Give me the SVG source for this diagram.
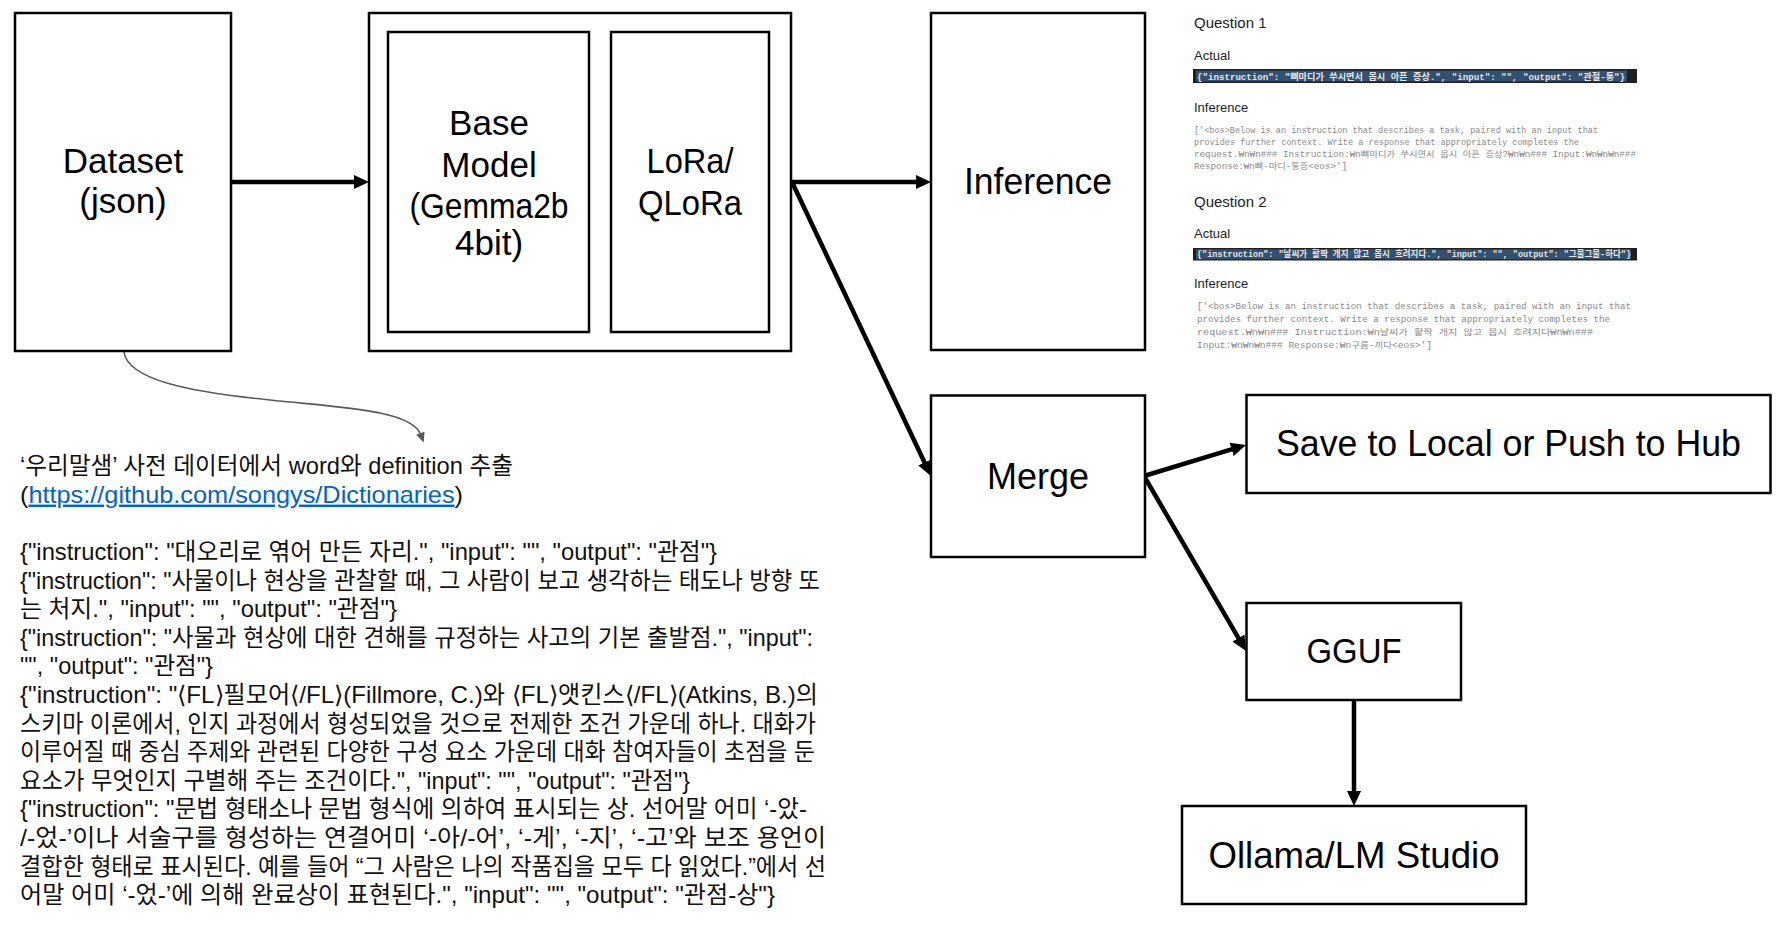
<svg xmlns="http://www.w3.org/2000/svg" width="1787" height="935" viewBox="0 0 1787 935">
<style>
.box{fill:#fff;stroke:#000;stroke-width:2.5}
.lbl{font-family:"Liberation Sans","Noto Sans CJK KR",sans-serif;font-size:35px;fill:#000;text-anchor:middle}
.big{font-size:36px}
.conn{stroke:#000;stroke-width:4.5;fill:none;marker-end:url(#ah)}
.note{stroke:#5a5a5a;stroke-width:1.6;fill:none;marker-end:url(#ahs)}
.body{font-family:"Liberation Sans","Noto Sans CJK KR",sans-serif;font-size:24px;fill:#111}
.link{fill:#0563c1;text-decoration:underline}
.hdr{font-family:"Liberation Sans","Noto Sans CJK KR",sans-serif;fill:#222}
.mono{font-family:"Liberation Mono","Noto Sans CJK KR",monospace;font-size:8.5px;fill:#8a8a8a}
.code{font-family:"Liberation Mono","Noto Sans CJK KR",monospace;font-size:9px;font-weight:bold;fill:#e6e6e6}
</style>
<defs>
<marker id="ah" markerUnits="userSpaceOnUse" markerWidth="15" markerHeight="14" refX="5" refY="7" orient="auto"><path d="M0,0 L15,7 L0,14 z" fill="#000"/></marker>
<marker id="ahs" markerUnits="userSpaceOnUse" markerWidth="10" markerHeight="9" refX="2" refY="4.5" orient="auto"><path d="M0,0 L10,4.5 L0,9 z" fill="#5a5a5a"/></marker>
</defs>
<rect width="1787" height="935" fill="#fff"/>

<g id="connectors">
<line class="conn" x1="231" y1="182" x2="359" y2="182"/>
<line class="conn" x1="791" y1="182" x2="921" y2="182"/>
<line class="conn" x1="792" y1="182" x2="926.7" y2="467"/>
<line class="conn" x1="1144" y1="476" x2="1236.4" y2="447.9"/>
<line class="conn" x1="1144" y1="476" x2="1241" y2="642.4"/>
<line class="conn" x1="1354" y1="700" x2="1354" y2="796"/>
<path class="note" d="M124,352 C128,380 190,392 270,400 C345,408 412,410 421,435"/>
</g>

<g id="dataset">
<rect class="box" x="15" y="13" width="216" height="338"/>
<text class="lbl" x="123" y="173">Dataset</text>
<text class="lbl" x="123" y="213">(json)</text>
</g>

<g id="training">
<rect class="box" x="369" y="13" width="422" height="338"/>
<g id="base-model">
<rect class="box" x="388" y="32" width="201" height="300"/>
<text class="lbl" x="489" y="135">Base</text>
<text class="lbl" x="489" y="177">Model</text>
<text class="lbl" x="489" y="218" textLength="159" lengthAdjust="spacingAndGlyphs">(Gemma2b</text>
<text class="lbl" x="489" y="255">4bit)</text>
</g>
<g id="lora">
<rect class="box" x="611" y="32" width="158" height="300"/>
<text class="lbl" x="690" y="173" textLength="87" lengthAdjust="spacingAndGlyphs">LoRa/</text>
<text class="lbl" x="690" y="215" textLength="104" lengthAdjust="spacingAndGlyphs">QLoRa</text>
</g>
</g>

<g id="inference">
<rect class="box" x="931" y="13" width="214" height="337"/>
<text class="lbl big" x="1038" y="194" textLength="148" lengthAdjust="spacingAndGlyphs">Inference</text>
</g>

<g id="merge">
<rect class="box" x="931" y="395.5" width="214" height="161.5"/>
<text class="lbl big" x="1038" y="489">Merge</text>
</g>

<g id="save">
<rect class="box" x="1246.5" y="395" width="524" height="98"/>
<text class="lbl big" x="1508.5" y="456" textLength="465" lengthAdjust="spacingAndGlyphs">Save to Local or Push to Hub</text>
</g>

<g id="gguf">
<rect class="box" x="1246.5" y="603" width="214.5" height="97"/>
<text class="lbl" x="1354" y="663" textLength="95" lengthAdjust="spacingAndGlyphs">GGUF</text>
</g>

<g id="ollama">
<rect class="box" x="1182" y="806" width="344" height="98"/>
<text class="lbl big" x="1354" y="868" textLength="291" lengthAdjust="spacingAndGlyphs">Ollama/LM Studio</text>
</g>

<g id="dataset-note">
<text class="body" x="20" y="474" textLength="493" lengthAdjust="spacingAndGlyphs">‘우리말샘’ 사전 데이터에서 word와 definition 추출</text>
<text class="body" x="20" y="502.6" textLength="443" lengthAdjust="spacingAndGlyphs">(<tspan class="link">https://github.com/songys/Dictionaries</tspan>)</text>
<text class="body" x="20" y="560" textLength="697" lengthAdjust="spacingAndGlyphs">{"instruction": "대오리로 엮어 만든 자리.", "input": "", "output": "관점"}</text>
<text class="body" x="20" y="588.6" textLength="800" lengthAdjust="spacingAndGlyphs">{"instruction": "사물이나 현상을 관찰할 때, 그 사람이 보고 생각하는 태도나 방향 또</text>
<text class="body" x="20" y="617.2" textLength="377" lengthAdjust="spacingAndGlyphs">는 처지.", "input": "", "output": "관점"}</text>
<text class="body" x="20" y="645.8" textLength="793" lengthAdjust="spacingAndGlyphs">{"instruction": "사물과 현상에 대한 견해를 규정하는 사고의 기본 출발점.", "input":</text>
<text class="body" x="20" y="674.4" textLength="193" lengthAdjust="spacingAndGlyphs">"", "output": "관점"}</text>
<text class="body" x="20" y="703" textLength="798" lengthAdjust="spacingAndGlyphs">{"instruction": "⟨FL⟩필모어⟨/FL⟩(Fillmore, C.)와 ⟨FL⟩앳킨스⟨/FL⟩(Atkins, B.)의</text>
<text class="body" x="20" y="731.6" textLength="796" lengthAdjust="spacingAndGlyphs">스키마 이론에서, 인지 과정에서 형성되었을 것으로 전제한 조건 가운데 하나. 대화가</text>
<text class="body" x="20" y="760.2" textLength="795" lengthAdjust="spacingAndGlyphs">이루어질 때 중심 주제와 관련된 다양한 구성 요소 가운데 대화 참여자들이 초점을 둔</text>
<text class="body" x="20" y="788.8" textLength="670" lengthAdjust="spacingAndGlyphs">요소가 무엇인지 구별해 주는 조건이다.", "input": "", "output": "관점"}</text>
<text class="body" x="20" y="817.4" textLength="787" lengthAdjust="spacingAndGlyphs">{"instruction": "문법 형태소나 문법 형식에 의하여 표시되는 상. 선어말 어미 ‘-았-</text>
<text class="body" x="20" y="846" textLength="806" lengthAdjust="spacingAndGlyphs">/-었-’이나 서술구를 형성하는 연결어미 ‘-아/-어’, ‘-게’, ‘-지’, ‘-고’와 보조 용언이</text>
<text class="body" x="20" y="874.6" textLength="806" lengthAdjust="spacingAndGlyphs">결합한 형태로 표시된다. 예를 들어 “그 사람은 나의 작품집을 모두 다 읽었다.”에서 선</text>
<text class="body" x="20" y="903.2" textLength="755" lengthAdjust="spacingAndGlyphs">어말 어미 ‘-었-’에 의해 완료상이 표현된다.", "input": "", "output": "관점-상"}</text>
</g>

<g id="inference-results">
<text class="hdr" x="1194" y="28" font-size="15">Question 1</text>
<text class="hdr" x="1194" y="60" font-size="13">Actual</text>
<rect x="1193" y="69" width="444" height="14" fill="#1f1f1f"/>
<rect x="1196" y="70.5" width="431" height="11" fill="#34506f"/>
<text class="code" x="1197" y="79.5" textLength="428" lengthAdjust="spacingAndGlyphs">{"instruction": "뼈마디가 쑤시면서 몹시 아픈 증상.", "input": "", "output": "관절-통"}</text>
<text class="hdr" x="1194" y="112" font-size="13">Inference</text>
<text class="mono" x="1194" y="132.7" textLength="404" lengthAdjust="spacingAndGlyphs">['&lt;bos&gt;Below is an instruction that describes a task, paired with an input that</text>
<text class="mono" x="1194" y="145" textLength="385" lengthAdjust="spacingAndGlyphs">provides further context. Write a response that appropriately completes the</text>
<text class="mono" x="1194" y="157.3" textLength="442" lengthAdjust="spacingAndGlyphs">request.₩n₩n### Instruction:₩n뼈마디가 쑤시면서 몹시 아픈 증상?₩n₩n### Input:₩n₩n₩n###</text>
<text class="mono" x="1194" y="169.3" textLength="153" lengthAdjust="spacingAndGlyphs">Response:₩n뼈-마디-통증&lt;eos&gt;']</text>

<text class="hdr" x="1194" y="206.7" font-size="15">Question 2</text>
<text class="hdr" x="1194" y="238" font-size="13">Actual</text>
<rect x="1193" y="248" width="444" height="12.5" fill="#1f1f1f"/>
<rect x="1196" y="249.3" width="435" height="10" fill="#34506f"/>
<text class="code" x="1197" y="257.3" textLength="434" lengthAdjust="spacingAndGlyphs">{"instruction": "날씨가 활짝 개지 않고 몹시 흐려지다.", "input": "", "output": "그물그물-하다"}</text>
<text class="hdr" x="1194" y="288" font-size="13">Inference</text>
<text class="mono" x="1197" y="309" textLength="434" lengthAdjust="spacingAndGlyphs">['&lt;bos&gt;Below is an instruction that describes a task, paired with an input that</text>
<text class="mono" x="1197" y="321.7" textLength="413" lengthAdjust="spacingAndGlyphs">provides further context. Write a response that appropriately completes the</text>
<text class="mono" x="1197" y="335" textLength="396" lengthAdjust="spacingAndGlyphs">request.₩n₩n### Instruction:₩n날씨가 활짝 개지 않고 몹시 흐려지다₩n₩n###</text>
<text class="mono" x="1197" y="348" textLength="235" lengthAdjust="spacingAndGlyphs">Input:₩n₩n₩n### Response:₩n구름-끼다&lt;eos&gt;']</text>
</g>
</svg>
